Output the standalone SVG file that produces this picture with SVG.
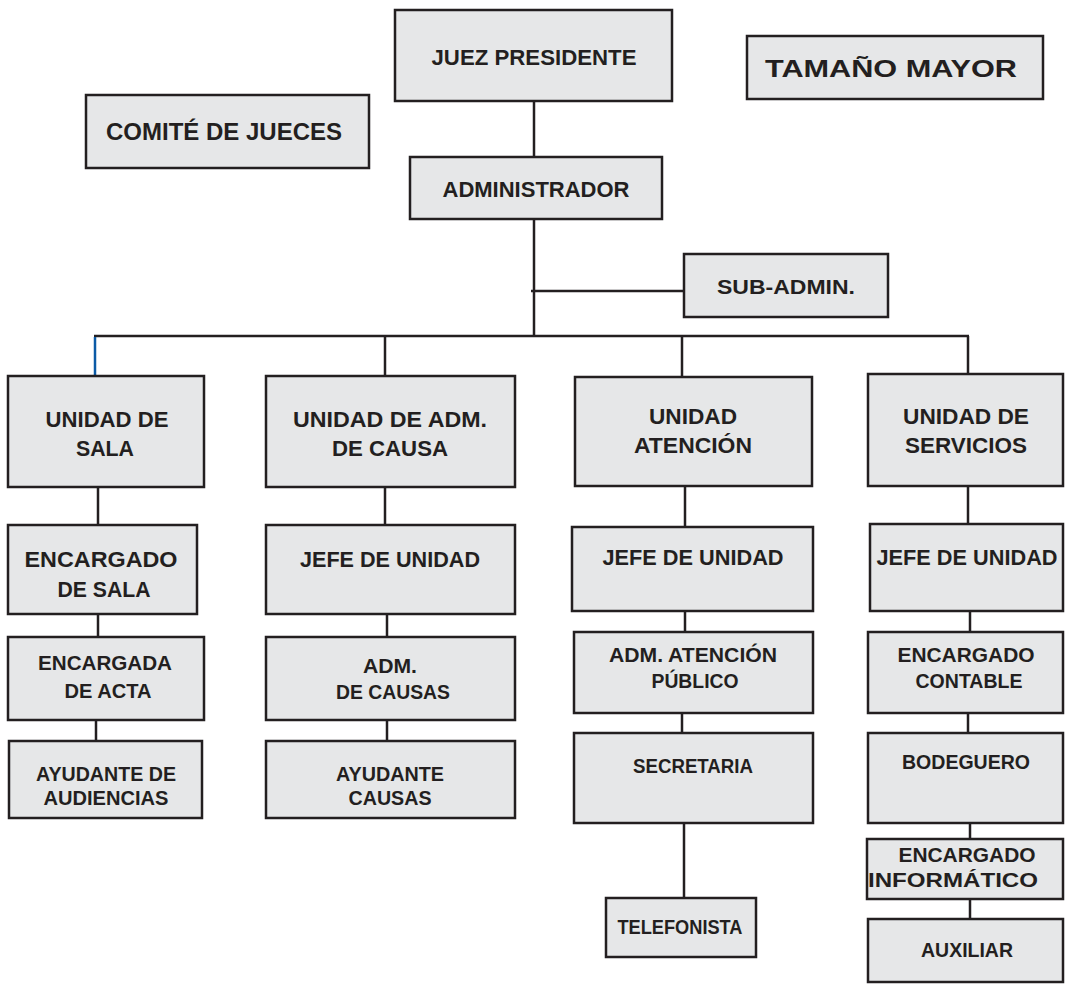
<svg xmlns="http://www.w3.org/2000/svg" width="1065" height="989" viewBox="0 0 1065 989">
  <style>
    .box { fill: #e6e7e8; stroke: #231f20; stroke-width: 2.5; }
    .lbl { font-family: "Liberation Sans", Arial, sans-serif; font-weight: bold; fill: #231f20; text-anchor: middle; }
    .conn { stroke: #231f20; stroke-width: 2.5; fill: none; }
    .blue { stroke: #0b5aa6; stroke-width: 2.5; fill: none; }
  </style>
  <rect width="1065" height="989" fill="#ffffff"/>

  <!-- connectors -->
  <g id="connectors">
    <line class="conn" x1="534" y1="101" x2="534" y2="157"/>
    <line class="conn" x1="534" y1="219" x2="534" y2="336"/>
    <line class="conn" x1="531" y1="291" x2="684" y2="291"/>
    <line class="conn" x1="94" y1="336" x2="969" y2="336"/>
    <line class="blue" x1="95" y1="337" x2="95" y2="376"/>
    <line class="conn" x1="385" y1="336" x2="385" y2="376"/>
    <line class="conn" x1="682" y1="336" x2="682" y2="377"/>
    <line class="conn" x1="968" y1="336" x2="968" y2="374"/>
    <!-- column 1 -->
    <line class="conn" x1="98" y1="487" x2="98" y2="525"/>
    <line class="conn" x1="98" y1="614" x2="98" y2="637"/>
    <line class="conn" x1="96" y1="720" x2="96" y2="741"/>
    <!-- column 2 -->
    <line class="conn" x1="385" y1="487" x2="385" y2="525"/>
    <line class="conn" x1="387" y1="614" x2="387" y2="637"/>
    <line class="conn" x1="387" y1="720" x2="387" y2="741"/>
    <!-- column 3 -->
    <line class="conn" x1="685" y1="486" x2="685" y2="527"/>
    <line class="conn" x1="685" y1="611" x2="685" y2="632"/>
    <line class="conn" x1="682" y1="713" x2="682" y2="733"/>
    <line class="conn" x1="684" y1="823" x2="684" y2="898"/>
    <!-- column 4 -->
    <line class="conn" x1="968" y1="486" x2="968" y2="524"/>
    <line class="conn" x1="970" y1="611" x2="970" y2="632"/>
    <line class="conn" x1="968" y1="713" x2="968" y2="733"/>
    <line class="conn" x1="970" y1="823" x2="970" y2="839"/>
    <line class="conn" x1="970" y1="899" x2="970" y2="919"/>
  </g>

  <!-- top level -->
  <g id="juez-presidente">
    <rect class="box" x="395" y="10" width="277" height="91"/>
    <text class="lbl" x="534" y="65" font-size="22" textLength="205" lengthAdjust="spacingAndGlyphs">JUEZ PRESIDENTE</text>
  </g>
  <g id="administrador">
    <rect class="box" x="410" y="157" width="252" height="62"/>
    <text class="lbl" x="536" y="197" font-size="22" textLength="187" lengthAdjust="spacingAndGlyphs">ADMINISTRADOR</text>
  </g>
  <g id="comite-jueces">
    <rect class="box" x="86" y="95" width="283" height="73"/>
    <text class="lbl" x="224" y="140" font-size="24" textLength="236" lengthAdjust="spacingAndGlyphs">COMITÉ DE JUECES</text>
  </g>
  <g id="tamano-mayor">
    <rect class="box" x="747" y="36" width="296" height="63"/>
    <text class="lbl" x="891" y="77" font-size="24" textLength="252" lengthAdjust="spacingAndGlyphs">TAMAÑO MAYOR</text>
  </g>
  <g id="sub-admin">
    <rect class="box" x="684" y="254" width="204" height="63"/>
    <text class="lbl" x="786" y="294" font-size="21" textLength="138" lengthAdjust="spacingAndGlyphs">SUB-ADMIN.</text>
  </g>

  <!-- units -->
  <g id="unidad-sala">
    <rect class="box" x="8" y="376" width="196" height="111"/>
    <text class="lbl" x="107" y="427" font-size="22" textLength="123" lengthAdjust="spacingAndGlyphs">UNIDAD DE</text>
    <text class="lbl" x="105" y="456" font-size="22" textLength="58" lengthAdjust="spacingAndGlyphs">SALA</text>
  </g>
  <g id="unidad-adm-causa">
    <rect class="box" x="266" y="376" width="249" height="111"/>
    <text class="lbl" x="390" y="427" font-size="22" textLength="194" lengthAdjust="spacingAndGlyphs">UNIDAD DE ADM.</text>
    <text class="lbl" x="390" y="456" font-size="22" textLength="116" lengthAdjust="spacingAndGlyphs">DE CAUSA</text>
  </g>
  <g id="unidad-atencion">
    <rect class="box" x="575" y="377" width="237" height="109"/>
    <text class="lbl" x="693" y="424" font-size="22" textLength="88" lengthAdjust="spacingAndGlyphs">UNIDAD</text>
    <text class="lbl" x="693" y="453" font-size="22" textLength="118" lengthAdjust="spacingAndGlyphs">ATENCIÓN</text>
  </g>
  <g id="unidad-servicios">
    <rect class="box" x="868" y="374" width="195" height="112"/>
    <text class="lbl" x="966" y="424" font-size="22" textLength="126" lengthAdjust="spacingAndGlyphs">UNIDAD DE</text>
    <text class="lbl" x="966" y="453" font-size="22" textLength="122" lengthAdjust="spacingAndGlyphs">SERVICIOS</text>
  </g>

  <!-- column 1 -->
  <g id="encargado-sala">
    <rect class="box" x="8" y="525" width="189" height="89"/>
    <text class="lbl" x="101" y="567" font-size="22" textLength="153" lengthAdjust="spacingAndGlyphs">ENCARGADO</text>
    <text class="lbl" x="104" y="597" font-size="22" textLength="93" lengthAdjust="spacingAndGlyphs">DE SALA</text>
  </g>
  <g id="encargada-acta">
    <rect class="box" x="8" y="637" width="196" height="83"/>
    <text class="lbl" x="105" y="670" font-size="20" textLength="134" lengthAdjust="spacingAndGlyphs">ENCARGADA</text>
    <text class="lbl" x="108" y="698" font-size="20" textLength="87" lengthAdjust="spacingAndGlyphs">DE ACTA</text>
  </g>
  <g id="ayudante-audiencias">
    <rect class="box" x="9" y="741" width="193" height="77"/>
    <text class="lbl" x="106" y="781" font-size="20" textLength="140" lengthAdjust="spacingAndGlyphs">AYUDANTE DE</text>
    <text class="lbl" x="106" y="805" font-size="20" textLength="125" lengthAdjust="spacingAndGlyphs">AUDIENCIAS</text>
  </g>

  <!-- column 2 -->
  <g id="jefe-unidad-causa">
    <rect class="box" x="266" y="525" width="249" height="89"/>
    <text class="lbl" x="390" y="567" font-size="22" textLength="180" lengthAdjust="spacingAndGlyphs">JEFE DE UNIDAD</text>
  </g>
  <g id="adm-causas">
    <rect class="box" x="266" y="637" width="249" height="83"/>
    <text class="lbl" x="390" y="673" font-size="20" textLength="54" lengthAdjust="spacingAndGlyphs">ADM.</text>
    <text class="lbl" x="393" y="699" font-size="20" textLength="114" lengthAdjust="spacingAndGlyphs">DE CAUSAS</text>
  </g>
  <g id="ayudante-causas">
    <rect class="box" x="266" y="741" width="249" height="77"/>
    <text class="lbl" x="390" y="781" font-size="20" textLength="108" lengthAdjust="spacingAndGlyphs">AYUDANTE</text>
    <text class="lbl" x="390" y="805" font-size="20" textLength="83" lengthAdjust="spacingAndGlyphs">CAUSAS</text>
  </g>

  <!-- column 3 -->
  <g id="jefe-unidad-atencion">
    <rect class="box" x="572" y="527" width="241" height="84"/>
    <text class="lbl" x="693" y="565" font-size="22" textLength="181" lengthAdjust="spacingAndGlyphs">JEFE DE UNIDAD</text>
  </g>
  <g id="adm-atencion-publico">
    <rect class="box" x="574" y="632" width="239" height="81"/>
    <text class="lbl" x="693" y="662" font-size="20" textLength="168" lengthAdjust="spacingAndGlyphs">ADM. ATENCIÓN</text>
    <text class="lbl" x="695" y="688" font-size="20" textLength="87" lengthAdjust="spacingAndGlyphs">PÚBLICO</text>
  </g>
  <g id="secretaria">
    <rect class="box" x="574" y="733" width="239" height="90"/>
    <text class="lbl" x="693" y="773" font-size="20" textLength="120" lengthAdjust="spacingAndGlyphs">SECRETARIA</text>
  </g>
  <g id="telefonista">
    <rect class="box" x="606" y="898" width="150" height="59"/>
    <text class="lbl" x="680" y="934" font-size="20" textLength="125" lengthAdjust="spacingAndGlyphs">TELEFONISTA</text>
  </g>

  <!-- column 4 -->
  <g id="jefe-unidad-servicios">
    <rect class="box" x="870" y="524" width="193" height="87"/>
    <text class="lbl" x="967" y="565" font-size="22" textLength="181" lengthAdjust="spacingAndGlyphs">JEFE DE UNIDAD</text>
  </g>
  <g id="encargado-contable">
    <rect class="box" x="868" y="632" width="195" height="81"/>
    <text class="lbl" x="966" y="662" font-size="20" textLength="137" lengthAdjust="spacingAndGlyphs">ENCARGADO</text>
    <text class="lbl" x="969" y="688" font-size="20" textLength="107" lengthAdjust="spacingAndGlyphs">CONTABLE</text>
  </g>
  <g id="bodeguero">
    <rect class="box" x="868" y="733" width="195" height="90"/>
    <text class="lbl" x="966" y="769" font-size="20" textLength="128" lengthAdjust="spacingAndGlyphs">BODEGUERO</text>
  </g>
  <g id="encargado-informatico">
    <rect class="box" x="867" y="839" width="196" height="60"/>
    <text class="lbl" x="967" y="862" font-size="20" textLength="137" lengthAdjust="spacingAndGlyphs">ENCARGADO</text>
    <text class="lbl" x="953" y="887" font-size="20" textLength="170" lengthAdjust="spacingAndGlyphs">INFORMÁTICO</text>
  </g>
  <g id="auxiliar">
    <rect class="box" x="868" y="919" width="195" height="63"/>
    <text class="lbl" x="967" y="957" font-size="20" textLength="92" lengthAdjust="spacingAndGlyphs">AUXILIAR</text>
  </g>
</svg>
